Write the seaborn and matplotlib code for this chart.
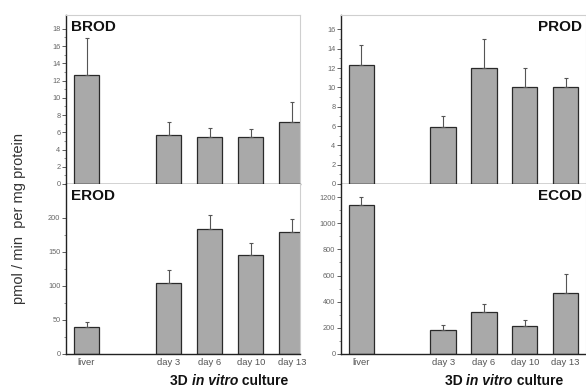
import matplotlib
matplotlib.use("Agg")
import matplotlib.pyplot as plt
import seaborn as sns
import pandas as pd
import numpy as np

sns.set_style("white")
plt.rcParams['font.family'] = ['Liberation Sans', 'DejaVu Sans']

# ---- data ----
categories = ["liver", "", "day 3", "day 6", "day 10", "day 13"]
groups = ["liver", "day 3", "day 6", "day 10", "day 13"]

brod_mean = [12.6, 5.7, 5.5, 5.5, 7.2]
brod_err = [4.3, 1.5, 1.0, 0.9, 2.3]
prod_mean = [12.3, 5.95, 12.0, 10.0, 10.0]
prod_err = [2.1, 1.05, 3.0, 2.0, 1.0]
erod_mean = [40, 104, 184, 146, 180]
erod_err = [7, 19, 20, 17, 18]
ecod_mean = [1137, 183, 318, 216, 463]
ecod_err = [63, 38, 61, 43, 152]

brod_ticks = [0, 2, 4, 6, 8, 10, 12, 14, 16, 18]
prod_ticks = [0, 2, 4, 6, 8, 10, 12, 14, 16]
erod_ticks = [0, 50, 100, 150, 200]
ecod_ticks = [0, 200, 400, 600, 800, 1000, 1200]

panels = [
    ("BROD", brod_mean, brod_err, 19.6, brod_ticks, 1, "left"),
    ("PROD", prod_mean, prod_err, 17.5, prod_ticks, 1, "right"),
    ("EROD", erod_mean, erod_err, 250, erod_ticks, 25, "left"),
    ("ECOD", ecod_mean, ecod_err, 1300, ecod_ticks, 100, "right"),
]

W, H = 586, 391
fig = plt.figure(figsize=(W / 100, H / 100), dpi=100)

def rect(x0, y0, x1, y1):
    return [x0 / W, 1 - y1 / H, (x1 - x0) / W, (y1 - y0) / H]

rects = [rect(66, 15, 300, 184), rect(341, 15, 586, 184),
         rect(66, 184, 300, 354), rect(341, 184, 586, 354)]
xlims = [(-0.5, 5.2), (-0.5, 5.5), (-0.5, 5.2), (-0.5, 5.5)]

bar_color = "#a9a9a9"
edge = "#2a2a2a"

for i, (name, means, errs, ymax, ticks, minor, side) in enumerate(panels):
    ax = fig.add_axes(rects[i])
    df = pd.DataFrame({"cat": groups, "val": means})
    sns.barplot(data=df, x="cat", y="val", order=categories, ax=ax,
                color=bar_color, edgecolor=edge, linewidth=0.9,
                width=0.62, saturation=1, errorbar=None)
    xs = [categories.index(g) for g in groups]
    ax.errorbar(xs, means, yerr=[np.zeros(len(errs)), errs], fmt="none",
                ecolor="#555555", elinewidth=0.8, capsize=1.5, capthick=0.8,
                zorder=1)
    ax.set_ylim(0, ymax)
    ax.set_xlim(*xlims[i])
    ax.set_yticks(ticks)
    ax.set_yticks(np.arange(0, ticks[-1] + minor * 0.5, minor), minor=True)
    ax.tick_params(axis="y", which="major", direction="out", length=3,
                   width=0.6, labelsize=5.3, labelcolor="#666666",
                   color="#444444", left=True, pad=1)
    ax.tick_params(axis="y", which="minor", direction="out", length=1.5,
                   width=0.5, color="#666666", left=True)
    ax.set_xlabel("")
    ax.set_ylabel("")
    if i < 2:
        ax.tick_params(axis="x", length=0, labelbottom=False)
    else:
        ax.tick_params(axis="x", length=0, labelsize=6.8, labelcolor="#555555",
                       pad=3)
    for s in ["left", "bottom"]:
        ax.spines[s].set_color("#222222")
        ax.spines[s].set_linewidth(1.0)
    for s in ["top", "right"]:
        ax.spines[s].set_color("#cfcfcf")
        ax.spines[s].set_linewidth(0.8)
    if i >= 2:
        ax.spines["top"].set_visible(False)
    if side == "left":
        ax.text(0.02, 0.97, name, transform=ax.transAxes, ha="left", va="top",
                fontsize=11, fontweight="bold", color="#111111")
    else:
        ax.text(0.985, 0.97, name, transform=ax.transAxes, ha="right", va="top",
                fontsize=11, fontweight="bold", color="#111111")

fig.text(19 / W, 1 - 218 / H, "pmol / min  per mg protein", rotation=90,
         ha="center", va="center", fontsize=10.5, color="#333333")

# x labels "3D in vitro culture" with italic part
fig.canvas.draw()
renderer = fig.canvas.get_renderer()
for cx in (229, 504):
    parts = [("3D ", "normal"), ("in vitro", "italic"), (" culture", "normal")]
    widths = []
    for txt, style in parts:
        t = fig.text(0, 0, txt, fontsize=10, fontweight="bold", style=style)
        widths.append(t.get_window_extent(renderer).width)
        t.remove()
    total = sum(widths)
    x = cx - total / 2
    for (txt, style), w in zip(parts, widths):
        fig.text(x / W, 1 - 381 / H, txt, fontsize=10, fontweight="bold",
                 style=style, ha="left", va="center", color="#111111")
        x += w

fig.savefig("out.png", dpi=100)
